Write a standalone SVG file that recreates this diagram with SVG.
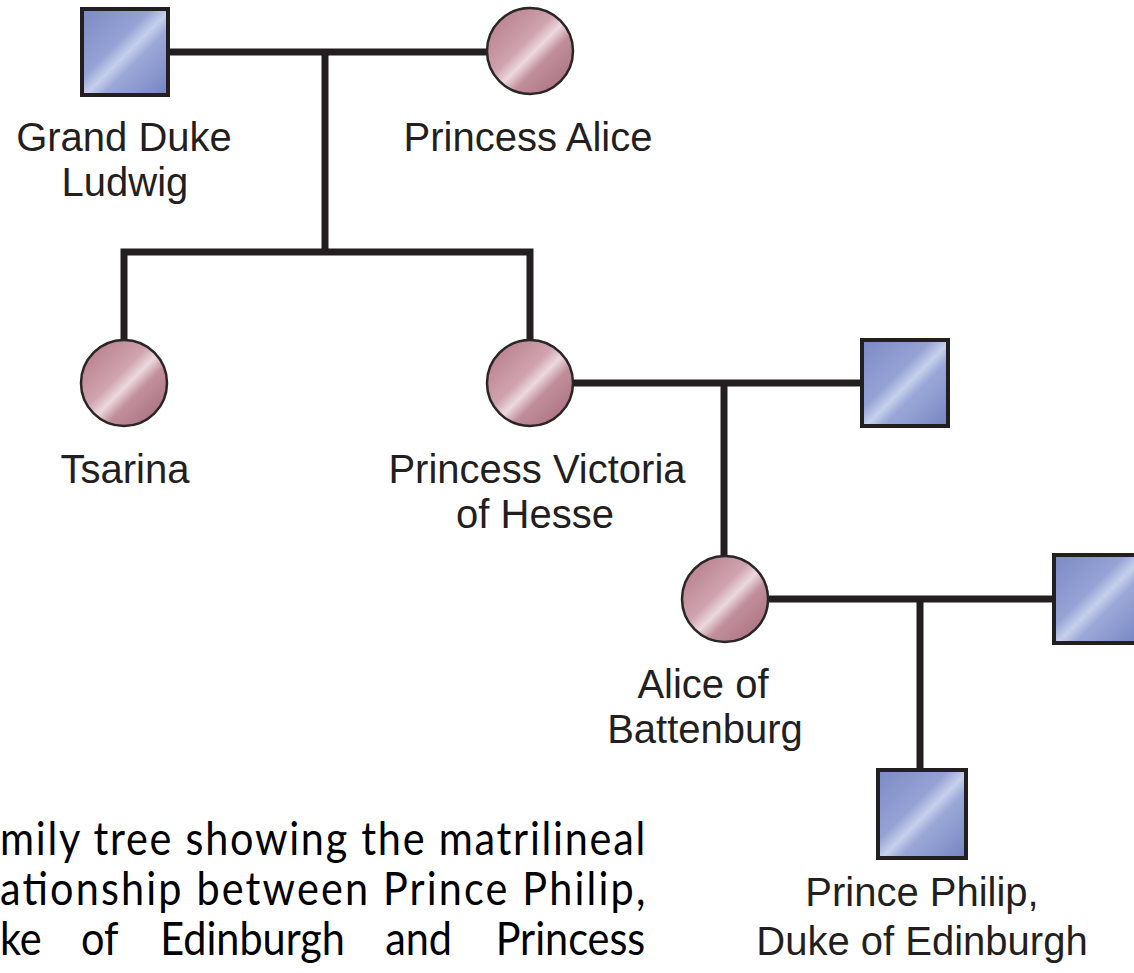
<svg xmlns="http://www.w3.org/2000/svg" width="1134" height="973" viewBox="0 0 1134 973">
<defs>
<linearGradient id="gm" x1="0" y1="0" x2="1" y2="1">
<stop offset="0" stop-color="#7a8ac4"/>
<stop offset="0.4" stop-color="#95a2d4"/>
<stop offset="0.52" stop-color="#c6d0ec"/>
<stop offset="0.62" stop-color="#9ba8d8"/>
<stop offset="1" stop-color="#7484c0"/>
</linearGradient>
<linearGradient id="gf" x1="0" y1="0" x2="1" y2="1">
<stop offset="0" stop-color="#b27685"/>
<stop offset="0.42" stop-color="#cfa3ae"/>
<stop offset="0.53" stop-color="#ecd8de"/>
<stop offset="0.64" stop-color="#c08f9b"/>
<stop offset="1" stop-color="#a66778"/>
</linearGradient>
<style>
.m{fill:url(#gm);stroke:#231f20;stroke-width:4}
.f{fill:url(#gf);stroke:#2a2526;stroke-width:2.5}
.c{fill:none;stroke:#231f20;stroke-width:7;stroke-linecap:butt;stroke-linejoin:miter}
.l{font-family:"Liberation Sans",Arial,sans-serif;font-size:40px;fill:#231f20;text-anchor:middle}
.cap{font-family:Lato,"Open Sans",sans-serif;font-size:46px;fill:#000}
</style>
</defs>
<g id="connectors">
<path class="c" d="M168,52 H487"/>
<path class="c" d="M325,52 V252"/>
<path class="c" d="M124,340 V252 H530 V340"/>
<path class="c" d="M573,383 H862"/>
<path class="c" d="M724,383 V556"/>
<path class="c" d="M768,599 H1054"/>
<path class="c" d="M920,599 V770"/>
</g>
<g id="grand-duke-ludwig">
<rect class="m" x="82" y="9" width="86" height="86"/>
<text class="l" x="124" y="151">Grand Duke</text>
<text class="l" x="125" y="196">Ludwig</text>
</g>
<g id="princess-alice">
<circle class="f" cx="530" cy="51" r="43"/>
<text class="l" x="528" y="151">Princess Alice</text>
</g>
<g id="tsarina">
<circle class="f" cx="124" cy="383" r="43"/>
<text class="l" x="125" y="483">Tsarina</text>
</g>
<g id="princess-victoria">
<circle class="f" cx="530" cy="383" r="43"/>
<text class="l" x="537" y="483">Princess Victoria</text>
<text class="l" x="535" y="528">of Hesse</text>
</g>
<g id="husband-victoria">
<rect class="m" x="862" y="340" width="86" height="86"/>
</g>
<g id="alice-of-battenburg">
<circle class="f" cx="725" cy="599" r="43"/>
<text class="l" x="703" y="698">Alice of</text>
<text class="l" x="705" y="743">Battenburg</text>
</g>
<g id="husband-alice">
<rect class="m" x="1054" y="555" width="88" height="88"/>
</g>
<g id="prince-philip">
<rect class="m" x="878" y="770" width="88" height="88"/>
<text class="l" x="922" y="906">Prince Philip,</text>
<text class="l" x="922" y="955">Duke of Edinburgh</text>
</g>
<g id="caption" transform="scale(0.9,1)">
<text class="cap" x="0" y="855" textLength="717" lengthAdjust="spacing">mily tree showing the matrilineal</text>
<text class="cap" x="0" y="905" textLength="717" lengthAdjust="spacing">ationship between Prince Philip,</text>
<text class="cap" x="0" y="955">ke</text>
<text class="cap" x="90" y="955">of</text>
<text class="cap" x="178" y="955">Edinburgh</text>
<text class="cap" x="428" y="955">and</text>
<text class="cap" x="717" y="955" text-anchor="end">Princess</text>
</g>
</svg>
